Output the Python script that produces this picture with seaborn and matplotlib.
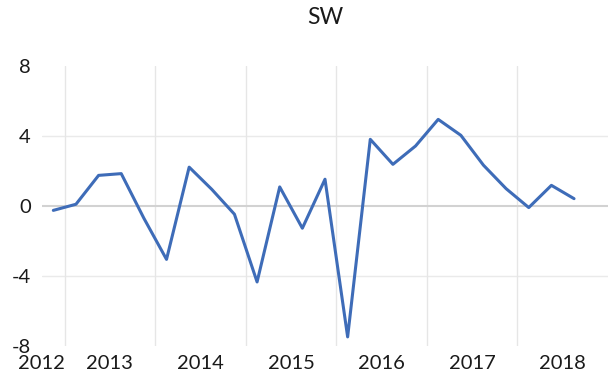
import numpy as np
import pandas as pd
import matplotlib
matplotlib.use("Agg")
import matplotlib.pyplot as plt
import seaborn as sns

# Quarterly periods shown on the axis (2012 Q4 .. 2018 Q4)
years = [2012] + [y for y in range(2013, 2019) for _ in range(4)]
quarters = [4] + [q for _ in range(2013, 2019) for q in range(1, 5)]
year_labels = ["2012", "2013", "2014", "2015", "2016", "2017", "2018"]

# SW values per quarter (2012 Q4 .. 2018 Q3)
sw_values = [-0.25, 0.10, 1.75, 1.85, -0.70, -3.05,
             2.22, 0.95, -0.47, -4.34, 1.09, -1.27,
             1.53, -7.48, 3.81, 2.38, 3.43, 4.95,
             4.04, 2.33, 0.99, -0.09, 1.18, 0.42]

y_ticks = [-8, -4, 0, 4, 8]

df = pd.DataFrame({"pos": np.arange(len(sw_values)), "SW": sw_values})

sns.set_theme(style="white")
plt.rcParams["font.family"] = ["Lato", "DejaVu Sans"]

fig = plt.figure(figsize=(6.08, 3.79), dpi=100)
ax = fig.add_axes([42 / 608, 1 - 346 / 379, 566 / 608, 280 / 379])

n_slots = len(years)
ax.set_xlim(-0.5, n_slots - 0.5)
ax.set_ylim(-8, 8)

# light grid: horizontal at ±4, vertical at year boundaries
for v in [-4, 4]:
    ax.axhline(v, color="#EAEAEA", lw=1.0, zorder=0)
boundaries = [i - 0.5 for i in range(n_slots) if quarters[i] == 1]
for b in boundaries:
    ax.axvline(b, color="#E6E6E6", lw=1.0, zorder=0)
ax.axhline(0, color="#D2D2D2", lw=1.5, zorder=1)

sns.lineplot(data=df, x="pos", y="SW", ax=ax, color="#3E6CB8", lw=2.2, zorder=3)

for s in ax.spines.values():
    s.set_visible(False)
ax.set_xlabel("")
ax.set_ylabel("")
ax.set_xticks([])
ax.set_yticks(y_ticks)
ax.set_yticklabels([str(t) for t in y_ticks], fontsize=14.5, color="#1a1a1a")
ax.tick_params(axis="y", length=0, pad=8)

# year labels centred under each year's span
edges = [-0.5] + boundaries + [n_slots - 0.5]
for i, lab in enumerate(year_labels):
    lo, hi = edges[i], edges[i + 1]
    if hi - lo < 2:
        ax.text(hi, -0.063, lab, transform=ax.get_xaxis_transform(),
                ha="right", va="center", fontsize=14.5, color="#1a1a1a")
    else:
        ax.text((lo + hi) / 2, -0.063, lab, transform=ax.get_xaxis_transform(),
                ha="center", va="center", fontsize=14.5, color="#1a1a1a")

fig.text((42 + 608) / 2 / 608, 1 - 17 / 379, "SW", ha="center", va="center",
         fontsize=16.5, color="#1a1a1a")

fig.savefig("out.png", dpi=100)
